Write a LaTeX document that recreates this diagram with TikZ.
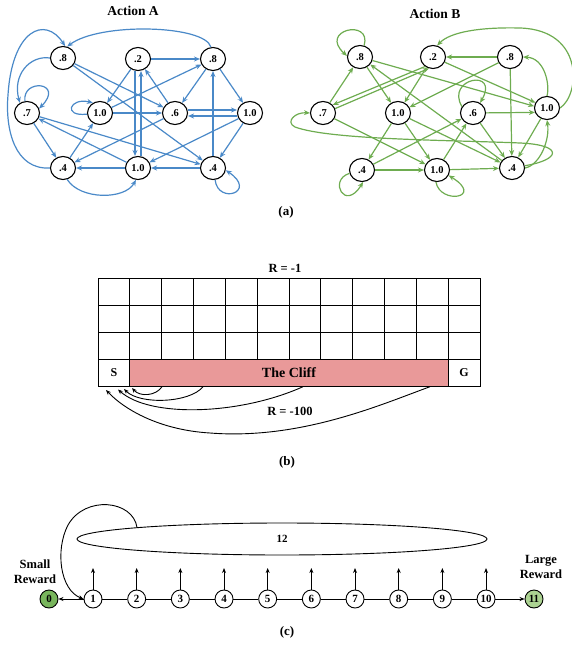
\documentclass[tikz,border=0pt]{standalone}
\usepackage{fontspec}
\setmainfont{Liberation Serif}
\usetikzlibrary{arrows.meta,shapes.geometric}
\definecolor{eblue}{RGB}{74,137,200}
\definecolor{egreen}{RGB}{110,172,80}
\definecolor{cliffred}{RGB}{233,153,153}
\definecolor{gdark}{RGB}{120,181,92}
\definecolor{glight}{RGB}{172,211,146}
\begin{document}
\begin{tikzpicture}[x=1pt,y=-1pt,
  st/.style={ellipse,draw=black,line width=1.1pt,minimum width=25pt,minimum height=23pt,inner sep=0pt,font=\bfseries\fontsize{10.5}{10.5}\selectfont,fill=white},
  ea/.style={eblue,line width=1.2pt,-{Stealth[length=6pt,width=5pt]}},
  eb/.style={egreen,line width=1.2pt,-{Stealth[length=6pt,width=5pt]}},
  ttl/.style={font=\bfseries\fontsize{13.5}{13.5}\selectfont,inner sep=0pt},
  captxt/.style={font=\bfseries\fontsize{13}{13}\selectfont,inner sep=0pt},
  lbl/.style={font=\bfseries\fontsize{12.5}{12.5}\selectfont,inner sep=0pt},
  gridline/.style={draw=black,line width=0.9pt},
  blk/.style={black,line width=0.9pt,-{Stealth[length=5pt,width=4pt]}},
  cn/.style={circle,draw=black,line width=0.9pt,minimum size=18pt,inner sep=0pt,font=\bfseries\fontsize{11}{11}\selectfont,fill=white},
  rw/.style={font=\bfseries\fontsize{12.5}{15}\selectfont,align=center,inner sep=0pt}
]
\useasboundingbox (0,0) rectangle (572,655);

% ---------------- (a) Action A ----------------
\node[ttl] (ta) at (133,11) {Action A};
\node[st] (a1) at (63,58) {.8};
\node[st] (a2) at (138,59) {.2};
\node[st] (a3) at (213,59) {.8};
\node[st] (a4) at (27,113) {.7};
\node[st] (a5) at (100,113) {1.0};
\node[st] (a6) at (175,113) {.6};
\node[st] (a7) at (250,113) {1.0};
\node[st] (a8) at (63,168) {.4};
\node[st] (a9) at (138,168) {1.0};
\node[st] (a10) at (213,168) {.4};

\draw[ea] (a3.100) .. controls (205,25) and (100,22) .. (a1.70);
\draw[ea] (a8.west) .. controls (15,170) and (5,130) .. (8,95) .. controls (12,30) and (45,15) .. (a1.80);
\draw[ea] (a1.west) .. controls (30,55) and (12,75) .. (a4.125);
\draw[ea] (a4.100) .. controls (22,78) and (65,82) .. (a4.20);
\draw[ea] (a1) -- (a6);
\draw[ea] (a1) -- (a10);
\draw[ea] (a2) -- (a3);
\draw[ea] (a2) -- (a5);
\draw[ea] ([xshift=-3pt]a2.south) -- ([xshift=-3pt]a9.north);
\draw[ea] ([xshift=3pt]a9.north) -- ([xshift=3pt]a2.south);
\draw[ea] (a6) -- (a2);
\draw[ea] (a3) -- (a6);
\draw[ea] (a3) -- (a7);
\draw[ea] (a5) -- (a3);
\draw[ea] (a5.185) .. controls (62,117) and (70,97) .. (a5.125);
\draw[ea] (a5) -- (a6);
\draw[ea] ([yshift=3pt]a6.east) -- ([yshift=3pt]a7.west);
\draw[ea] ([yshift=-3pt]a7.west) -- ([yshift=-3pt]a6.east);
\draw[ea] (a6) -- (a8);
\draw[ea] (a4) -- (a8);
\draw[ea] (a4) -- (a10);
\draw[ea] (a9) -- (a4);
\draw[ea] (a8) -- (a5);
\draw[ea] (a7) -- (a9);
\draw[ea] (a7) -- (a10);
\draw[ea] (a10) -- (a3);
\draw[ea] (a10) -- (a9);
\draw[ea] (a9) -- (a8);
\draw[ea] (a8.-70) .. controls (80,200) and (125,200) .. (a9.-100);
\draw[ea] (a10.-80) .. controls (218,205) and (258,192) .. (a10.-10);

% ---------------- (a) Action B ----------------
\node[ttl] (tb) at (435,14) {Action B};
\node[st] (b1) at (360,57) {.8};
\node[st] (b2) at (433,57) {.2};
\node[st] (b3) at (510,57) {.8};
\node[st] (b4) at (323,113) {.7};
\node[st] (b5) at (398,113) {1.0};
\node[st] (b6) at (473,113) {.6};
\node[st] (b7) at (547,108) {1.0};
\node[st] (b8) at (362,170) {.4};
\node[st] (b9) at (437,170) {1.0};
\node[st] (b10) at (512,168) {.4};

\draw[eb] (b1.70) .. controls (372,18) and (318,30) .. (b1.175);
\draw[eb] (b1) -- (b7.172);
\draw[eb] (b2) -- (b7.155);
\draw[eb] (b6) -- (b7.200);
\draw[eb] (b1) -- (b5);
\draw[eb] (b10) -- (b1);
\draw[eb] (b4) -- (b1);
\draw[eb] (b2.230) -- (b4.40);
\draw[eb] (b4.20) -- (b2.250);
\draw[eb] (b2) -- (b5);
\draw[eb] (b3) -- (b2);
\draw[eb] (b3) -- (b5);
\draw[eb] (b3) -- (b10);
\draw[eb] (b7.north) .. controls (550,85) and (545,58) .. (b3.east);
\draw[eb] (b7.east) .. controls (580,95) and (585,30) .. (520,28) .. controls (480,27) and (450,32) .. (b2.70);
\draw[eb] (b4) -- (b9);
\draw[eb] (b5) -- (b8);
\draw[eb] (b5) -- (b9);
\draw[eb] (b5) -- (b10);
\draw[eb] (b6.150) .. controls (445,78) and (500,68) .. (b6.55);
\draw[eb] (b6) -- (b10);
\draw[eb] (b8) -- (b6);
\draw[eb] (b9) -- (b6);
\draw[eb] (b8) -- (b9);
\draw[eb] (b9) -- (b10);
\draw[eb] (b7) -- (b10);
\draw[eb] (b10.east) .. controls (540,165) and (550,140) .. (b7.south);
\draw[eb] (b10.10) .. controls (560,160) and (565,145) .. (520,143) .. controls (450,140) and (330,140) .. (295,127) .. controls (285,122) and (295,112) .. (b4.west);
\draw[eb] (b8.195) .. controls (328,180) and (345,212) .. (b8.-85);
\draw[eb] (b9.-95) .. controls (440,205) and (485,198) .. (b9.-25);

\node[captxt] (capa) at (286,212) {(a)};

% ---------------- (b) Cliff walking ----------------
\node[lbl] (r1) at (285,268) {R = -1};
\foreach \i in {0,...,12} \draw[gridline] ({98+\i*31.833},278) -- ({98+\i*31.833},386.7);
\foreach \j in {0,...,4} \draw[gridline] (98,{278+\j*27.175}) -- (480,{278+\j*27.175});
\draw[gridline,fill=cliffred] (129.833,359.525) rectangle (448.167,386.7);
\node[font=\bfseries\fontsize{14}{14}\selectfont] (cl) at (289,373) {The Cliff};
\node[font=\bfseries\fontsize{12}{12}\selectfont] (S) at (114,373) {S};
\node[font=\bfseries\fontsize{12}{12}\selectfont] (G) at (464,373) {G};
\node[lbl] (r100) at (290,411) {R = -100};
\coordinate (f1) at (162,386.7);
\coordinate (f2) at (203,386.7);
\coordinate (f3) at (303,386.7);
\coordinate (f4) at (430,386.7);
\coordinate (s1) at (132,388);
\coordinate (s2) at (124,389);
\coordinate (s3) at (118,389.5);
\coordinate (s4) at (106,390);
\draw[blk] (f1) .. controls (156,396) and (140,397) .. (s1);
\draw[blk] (f2) .. controls (190,403) and (140,405) .. (s2);
\draw[blk] (f3) .. controls (240,415) and (150,418) .. (s3);
\draw[blk] (f4) .. controls (380,405) and (300,440) .. (210,433) .. controls (160,430) and (125,410) .. (s4);
\node[captxt] (capb) at (287,462) {(b)};

% ---------------- (c) Chain ----------------
\node[cn,fill=gdark] (n0) at (49,599) {0};
\foreach \i in {1,...,10} \node[cn] (n\i) at ({93+(\i-1)*43.67},599) {\i};
\node[cn,fill=glight] (n11) at (534,599) {11};
\foreach \i/\j in {1/2,2/3,3/4,4/5,5/6,6/7,7/8,8/9,9/10} \draw[black,line width=0.9pt] (n\i) -- (n\j);
\draw[blk] (n1) -- (n0);
\draw[blk] (n10) -- (n11);
\foreach \i in {1,...,10} {
  \coordinate (u\i) at ({93+(\i-1)*43.67},568);
  \draw[blk] (n\i.north) -- (u\i);
}
\node[ellipse,draw=black,line width=0.9pt,minimum width=410pt,minimum height=32pt,inner sep=0pt,font=\bfseries\fontsize{11}{11}\selectfont] (e12) at (282,539) {12};
\coordinate (et) at (137,527.5);
\draw[blk] (et) .. controls (133,500) and (85,495) .. (68,525) .. controls (55,550) and (60,590) .. (n1.west);
\node[rw] (sr) at (35,572) {Small\\Reward};
\node[rw] (lr) at (541,567) {Large\\Reward};
\node[captxt] (capc) at (287,632) {(c)};
\end{tikzpicture}
\end{document}
